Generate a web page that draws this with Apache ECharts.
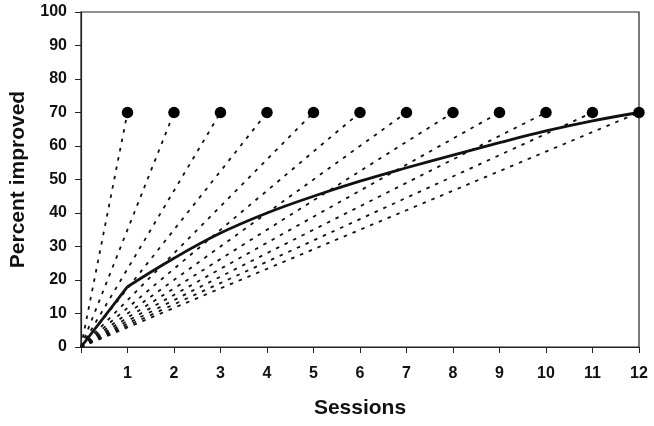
<!DOCTYPE html>
<html>
<head>
<meta charset="utf-8">
<script src="https://cdn.jsdelivr.net/npm/echarts@6/dist/echarts.min.js"></script>
<style>html,body{margin:0;padding:0;background:#fff;}#c{width:654px;height:426px;}</style>
</head>
<body>
<div id="c"></div>
<script>
// Data
const curveSessions = [0, 1, 2, 3, 4, 5, 6, 7, 8, 9, 10, 11, 12];
const curvePercent = [0, 18, 26.5, 34, 40, 45, 49.5, 53.5, 57.3, 61, 64.5, 67.5, 70];
const dotSessions = [1, 2, 3, 4, 5, 6, 7, 8, 9, 10, 11, 12];
const dotPercent = [70, 70, 70, 70, 70, 70, 70, 70, 70, 70, 70, 70];
const originSession = 0;
const originPercent = 0;
const xTicks = [1, 2, 3, 4, 5, 6, 7, 8, 9, 10, 11, 12];
const yTicks = [0, 10, 20, 30, 40, 50, 60, 70, 80, 90, 100];

const FONT = 'Liberation Sans, Arial, sans-serif';
const INK = '#111';

const series = [];
dotSessions.forEach((s, i) => {
  series.push({
    type: 'line',
    data: [[originSession, originPercent], [s, dotPercent[i]]],
    symbol: 'none',
    lineStyle: { color: INK, width: 1.8, type: [3.5, 6] },
    silent: true,
    z: 2
  });
});
const firstSeg = curveSessions.slice(0, 2).map((s, i) => [s, curvePercent[i]]);
const restSeg = curveSessions.slice(1).map((s, i) => [s, curvePercent[i + 1]]);
series.push({
  type: 'line', data: firstSeg, symbol: 'none', z: 3,
  lineStyle: { color: INK, width: 2.8 }
});
series.push({
  type: 'line', data: restSeg, symbol: 'none', smooth: 0.4, z: 3,
  lineStyle: { color: INK, width: 2.8 }
});
series.push({
  type: 'scatter',
  data: dotSessions.map((s, i) => [s, dotPercent[i]]),
  symbol: 'circle', symbolSize: 11.5,
  itemStyle: { color: '#000', opacity: 1 },
  emphasis: { disabled: true },
  clip: false, z: 4
});

const chart = echarts.init(document.getElementById('c'), null, { renderer: 'canvas' });
chart.setOption({
  animation: false,
  backgroundColor: '#fff',
  grid: { left: 75, right: 15, top: 12, bottom: 79, show: true, borderColor: '#222', borderWidth: 1.2, backgroundColor: 'transparent' },
  xAxis: {
    type: 'value', min: 0, max: 12, interval: 1,
    name: 'Sessions', nameLocation: 'middle', nameGap: 51,
    nameTextStyle: { fontFamily: FONT, fontWeight: 'bold', fontSize: 21, color: INK },
    axisLine: { show: true, lineStyle: { color: '#222', width: 1.2 } },
    axisTick: { show: true, length: 6, lineStyle: { color: '#222' } },
    splitLine: { show: false },
    axisLabel: {
      margin: 19, fontFamily: FONT, fontWeight: 'bold', fontSize: 16, color: INK,
      formatter: v => (xTicks.indexOf(v) >= 0 ? String(v) : '')
    }
  },
  yAxis: {
    type: 'value', min: 0, max: 100, interval: 10,
    name: 'Percent improved', nameLocation: 'middle', nameGap: 52, nameRotate: 90,
    nameTextStyle: { fontFamily: FONT, fontWeight: 'bold', fontSize: 21, color: INK },
    axisLine: { show: true, lineStyle: { color: '#222', width: 1.2 } },
    axisTick: { show: true, length: 6, lineStyle: { color: '#222' } },
    splitLine: { show: false },
    axisLabel: {
      margin: 14, fontFamily: FONT, fontWeight: 'bold', fontSize: 16, color: INK,
      formatter: v => (yTicks.indexOf(v) >= 0 ? String(v) : '')
    }
  },
  series: series
});
</script>
</body>
</html>
